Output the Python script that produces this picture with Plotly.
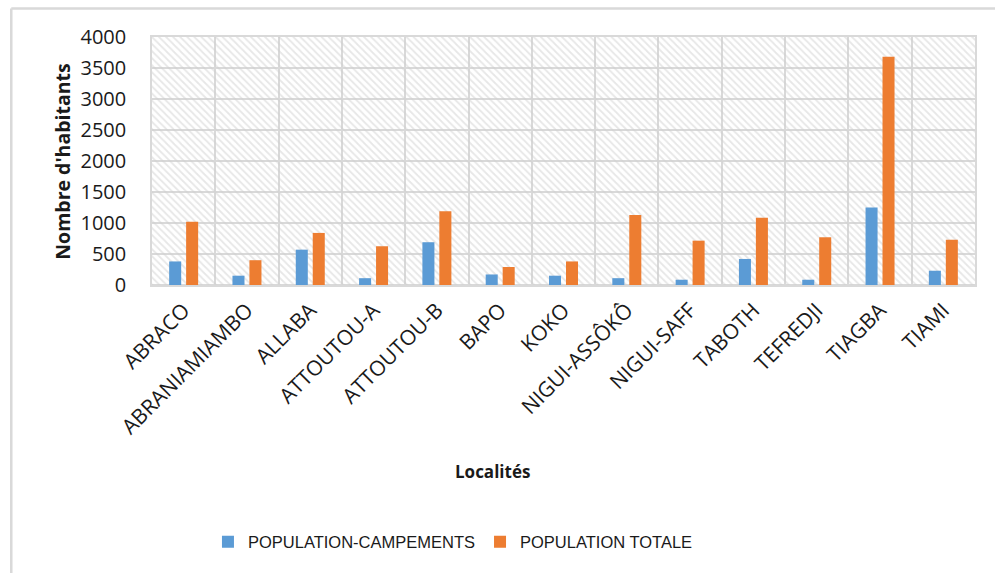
import plotly.graph_objects as go

categories = ["ABRACO", "ABRANIAMIAMBO", "ALLABA", "ATTOUTOU-A", "ATTOUTOU-B", "BAPO", "KOKO",
              "NIGUI-ASSÔKÔ", "NIGUI-SAFF", "TABOTH", "TEFREDJI", "TIAGBA", "TIAMI"]
pop_campements = [380, 150, 570, 110, 690, 170, 150, 110, 85, 420, 85, 1250, 230]
pop_totale = [1020, 400, 840, 625, 1190, 290, 380, 1130, 715, 1085, 770, 3680, 730]
y_ticks = [0, 500, 1000, 1500, 2000, 2500, 3000, 3500, 4000]
series_names = ["POPULATION-CAMPEMENTS", "POPULATION TOTALE"]
colors = ["#5B9BD5", "#ED7D31"]

Y_MAX = y_ticks[-1]
GRID = "#D9D9D9"
BAR_W = 0.19
OFFSETS = [-0.229, 0.039]

fig = go.Figure()

# hatched plot background
fig.add_trace(go.Bar(
    x=[categories[len(categories) // 2]], y=[Y_MAX], width=[len(categories)], offset=[-len(categories) / 2],
    marker=dict(color="rgba(0,0,0,0)", line=dict(width=0),
                pattern=dict(shape="\\", fgcolor="#CFCFCF", bgcolor="rgba(0,0,0,0)", size=5, solidity=0.35)),
    showlegend=False, hoverinfo="skip"))

for name, vals, col, off in zip(series_names, [pop_campements, pop_totale], colors, OFFSETS):
    fig.add_trace(go.Bar(x=categories, y=vals, name=name, marker=dict(color=col, line=dict(width=0)),
                         width=BAR_W, offset=off))

fig.update_layout(
    width=995, height=573,
    margin=dict(l=152, r=20, t=37, b=288),
    paper_bgcolor="white", plot_bgcolor="white",
    barmode="overlay",
    font=dict(family="Open Sans", color="#1A1A1A"),
    showlegend=True,
    legend=dict(orientation="h", x=0.068, xanchor="left", y=-1.036, yanchor="middle",
                font=dict(family="Liberation Sans, Arial, sans-serif", size=16.5, color="#1A1A1A"),
                bgcolor="rgba(0,0,0,0)"),
)

fig.update_xaxes(
    type="category", categoryorder="array", categoryarray=categories,
    range=[-0.5, len(categories) - 0.5],
    tickson="boundaries", ticks="", showgrid=True, gridcolor=GRID, gridwidth=1.5,
    showline=True, linecolor=GRID, linewidth=1.5, mirror=True,
    tickangle=-45, tickfont=dict(family="Open Sans", size=21, color="#1A1A1A"),
    ticklabelstandoff=3,
)
fig.update_yaxes(
    range=[0, Y_MAX], tickvals=y_ticks, ticktext=[str(v) for v in y_ticks],
    showgrid=True, gridcolor=GRID, gridwidth=1.5, zeroline=True, zerolinecolor=GRID, zerolinewidth=1.5,
    showline=True, linecolor=GRID, linewidth=1.5, mirror=True,
    tickfont=dict(family="Open Sans", size=20, color="#1A1A1A"),
    ticks="", ticklabelstandoff=20,
)

fig.add_annotation(text="<b>Nombre d'habitants</b>", xref="paper", yref="paper", x=-0.109, y=0.498,
                   textangle=-90, showarrow=False, font=dict(family="Open Sans", size=19.5, color="#1A1A1A"),
                   xanchor="center", yanchor="middle")
fig.add_annotation(text="<b>Localités</b>", xref="paper", yref="paper", x=0.414, y=-0.754,
                   showarrow=False, font=dict(family="Open Sans", size=17, color="#1A1A1A"),
                   xanchor="center", yanchor="middle")

# outer chart frame (left and top edges visible)
fig.add_shape(type="line", xref="paper", yref="paper", x0=-0.171, x1=-0.171, y0=1.115, y1=-1.25,
              line=dict(color=GRID, width=2.5))
fig.add_shape(type="line", xref="paper", yref="paper", x0=-0.171, x1=1.1, y0=1.115, y1=1.115,
              line=dict(color=GRID, width=2.5))

fig.write_html("out.html")
